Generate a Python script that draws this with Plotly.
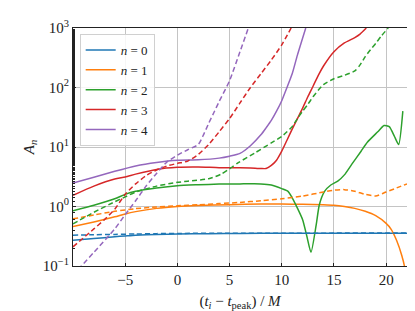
import plotly.graph_objects as go

# ---- data ----
n0_solid_x = [-10, -8, -6, -5, -4, -2, 0, 3, 6, 10, 15, 20, 22]
n0_solid_y = [0.27, 0.29, 0.31, 0.32, 0.33, 0.34, 0.345, 0.35, 0.353, 0.355, 0.355, 0.355, 0.355]
n0_dash_x = [-10, -8, -6, -4, -2, 0, 5, 10, 15, 20, 22]
n0_dash_y = [0.33, 0.335, 0.34, 0.345, 0.35, 0.353, 0.355, 0.356, 0.357, 0.357, 0.357]

n1_solid_x = [-10, -8, -6, -5, -4, -2, 0, 2, 5, 8, 10, 12, 14, 15, 16, 17, 18, 19, 20, 20.5, 21, 21.5, 21.8, 22]
n1_solid_y = [0.46, 0.55, 0.67, 0.75, 0.82, 0.93, 1.0, 1.04, 1.07, 1.1, 1.1, 1.09, 1.07, 1.05, 1.0, 0.93, 0.83, 0.7, 0.52, 0.41, 0.27, 0.15, 0.09, 0.03]
n1_dash_x = [-10, -8, -6, -4, -2, 0, 2, 4, 6, 8, 10, 12, 14, 15, 16, 17, 18, 19, 20, 21, 22]
n1_dash_y = [0.62, 0.72, 0.83, 0.92, 0.98, 1.03, 1.07, 1.12, 1.17, 1.25, 1.35, 1.5, 1.75, 1.88, 1.92, 1.8, 1.6, 1.5, 1.75, 2.05, 2.4]

n2_solid_x = [-10, -8, -6, -5, -4, -2, 0, 2, 4, 6, 8, 9, 10, 10.6, 11, 11.5, 12, 12.4, 12.8, 13.3, 13.6, 14.1, 14.7, 15.4, 16, 16.7, 17.6, 18.2, 19.2, 19.8, 20.3, 20.8, 21.2, 21.6]
n2_solid_y = [0.85, 1.05, 1.35, 1.6, 1.8, 2.05, 2.24, 2.32, 2.38, 2.4, 2.4, 2.3, 2.0, 1.8, 1.4, 0.94, 0.6, 0.32, 0.17, 0.49, 1.07, 1.8, 2.3, 2.7, 3.4, 5.1, 8.5, 12, 18, 23, 22, 15, 11, 40]
n2_dash_x = [-10, -8, -6, -5, -4, -2, 0, 1, 3, 4.2, 5, 5.8, 7.4, 9, 10, 10.5, 11, 11.5, 12, 12.5, 13, 13.5, 14, 15, 16, 17, 17.5, 18, 18.5, 19, 19.5, 20.2]
n2_dash_y = [0.51, 0.8, 1.2, 1.45, 1.75, 2.2, 2.55, 2.66, 2.93, 3.5, 4.3, 5.4, 7.9, 11.7, 15, 18, 22, 30, 40, 52, 70, 90, 112, 140, 160, 190, 240, 330, 430, 550, 720, 1000]

n3_solid_x = [-10, -8, -6, -5, -4, -2, 0, 2, 4, 6, 7, 8, 8.5, 9, 9.5, 10, 10.5, 11, 11.5, 12, 12.5, 13, 13.5, 14, 15, 16, 17, 17.5, 18.1]
n3_solid_y = [1.54, 2.2, 2.9, 3.13, 3.5, 4.2, 4.55, 4.6, 4.5, 4.5, 4.45, 4.35, 4.35, 4.9, 6.0, 8.5, 13, 20, 30, 45, 70, 105, 160, 230, 400, 560, 690, 790, 1000]
n3_dash_x = [-10, -8, -7, -6, -5, -4, -3, -2, -1, 0, 1, 2, 3, 4, 5, 6, 7, 8, 9, 10, 10.9]
n3_dash_y = [0.21, 0.42, 0.6, 0.9, 1.6, 2.4, 3.3, 4.1, 4.8, 5.3, 5.8, 7.5, 11, 18, 30, 55, 100, 170, 290, 520, 1000]

n4_solid_x = [-10, -8, -6, -4, -2, 0, 2, 4, 5, 6, 7, 8, 8.5, 9, 9.5, 10, 10.5, 11, 11.5, 12.3]
n4_solid_y = [2.48, 3.1, 3.9, 4.8, 5.5, 6.0, 6.1, 6.5, 7.0, 7.8, 10.5, 16, 21, 28, 40, 60, 100, 170, 350, 1000]
n4_dash_x = [-10, -9.2, -8, -6, -5, -4, -3, -2, -1, 0, 1, 2, 2.5, 3, 3.5, 4, 5, 6, 6.8]
n4_dash_y = [0.07, 0.1, 0.17, 0.42, 0.73, 1.25, 2.2, 3.6, 5.6, 7.3, 9.0, 11, 16, 25, 38, 58, 130, 400, 1000]

labels = ["<i>n</i> = 0", "<i>n</i> = 1", "<i>n</i> = 2", "<i>n</i> = 3", "<i>n</i> = 4"]
x_ticks = [-5, 0, 5, 10, 15, 20]
x_ticktext = ["\u22125", "0", "5", "10", "15", "20"]
y_ticks = [0.1, 1, 10, 100, 1000]
y_ticktext = ["10<sup>\u22121</sup>", "10<sup>0</sup>", "10<sup>1</sup>", "10<sup>2</sup>", "10<sup>3</sup>"]

colors = ["#1f77b4", "#ff7f0e", "#2ca02c", "#d62728", "#9467bd"]

solids = [(n0_solid_x, n0_solid_y), (n1_solid_x, n1_solid_y), (n2_solid_x, n2_solid_y),
          (n3_solid_x, n3_solid_y), (n4_solid_x, n4_solid_y)]
dashes = [(n0_dash_x, n0_dash_y), (n1_dash_x, n1_dash_y), (n2_dash_x, n2_dash_y),
          (n3_dash_x, n3_dash_y), (n4_dash_x, n4_dash_y)]

fig = go.Figure()
for i in range(5):
    sx, sy = solids[i]
    fig.add_trace(go.Scatter(x=sx, y=sy, mode="lines", name=labels[i],
                             line=dict(color=colors[i], width=1.5, shape="spline", smoothing=0.6)))
for i in range(5):
    dx, dy = dashes[i]
    fig.add_trace(go.Scatter(x=dx, y=dy, mode="lines", showlegend=False,
                             line=dict(color=colors[i], width=1.5, dash="5px,3px", shape="spline", smoothing=0.6)))

font_family = "Liberation Serif"
fig.update_layout(
    width=415, height=311,
    margin=dict(l=65, r=16, t=20, b=53, autoexpand=False),
    paper_bgcolor="white", plot_bgcolor="white",
    font=dict(family=font_family, size=15, color="#222"),
    legend=dict(x=0.02, y=0.975, xanchor="left", yanchor="top",
                bgcolor="rgba(255,255,255,0.85)", bordercolor="#d0d0d0", borderwidth=1,
                font=dict(size=13), itemwidth=30, tracegroupgap=0),
    xaxis=dict(range=[-10, 22], tickvals=x_ticks, ticktext=x_ticktext, automargin=False,
               showgrid=True, gridcolor="#c4c4c4", gridwidth=1,
               showline=True, linecolor="#222", linewidth=1, mirror=True,
               ticks="inside", ticklen=3, tickcolor="#222", zeroline=False,
               tickfont=dict(size=15),
               title=dict(text="(<i>t<sub>i</sub></i> \u2212 <i>t</i><sub>peak</sub>) / <i>M</i>",
                          font=dict(size=15), standoff=8)),
    yaxis=dict(type="log", range=[-1, 3], tickvals=y_ticks, ticktext=y_ticktext, automargin=False,
               showgrid=True, gridcolor="#c4c4c4", gridwidth=1,
               showline=True, linecolor="#222", linewidth=1, mirror=True,
               ticks="inside", ticklen=3, tickcolor="#222", zeroline=False,
               tickfont=dict(size=15),
               minor=dict(ticks="inside", ticklen=2, tickcolor="#222", showgrid=False),
               title=dict(text="<i>A<sub>n</sub></i>", font=dict(size=15), standoff=4)),
)

fig.write_html("out.html")
